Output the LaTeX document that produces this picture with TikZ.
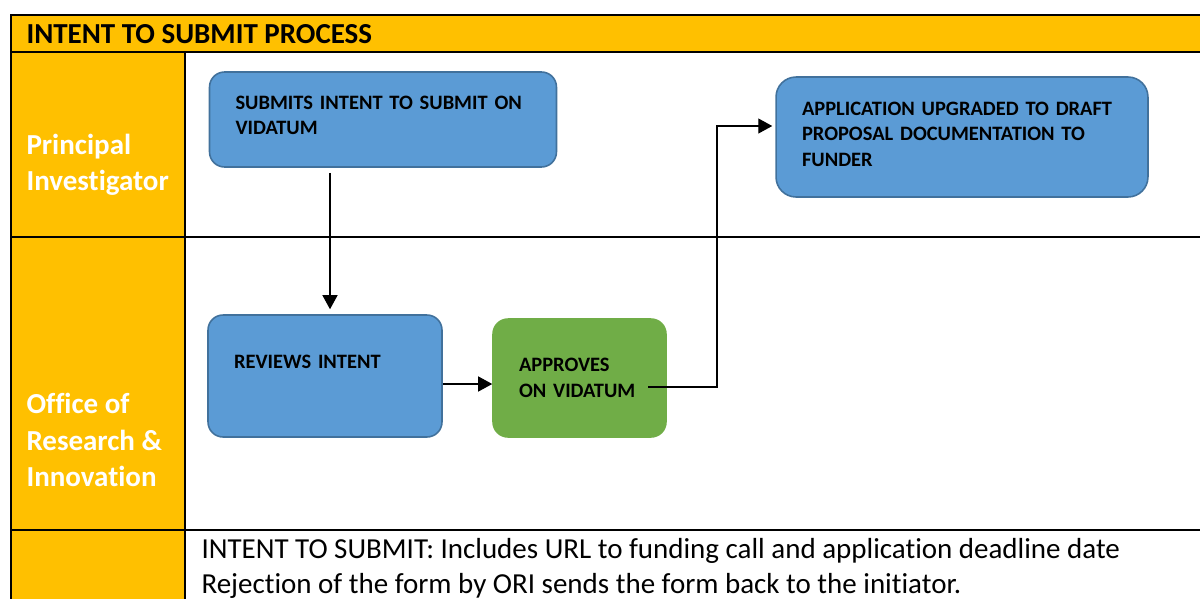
\documentclass[tikz,border=0pt]{standalone}
\usepackage{fontspec}
\setmainfont[Ligatures=NoCommon, Contextuals=NoAlternate]{Carlito}
\usepackage{tikz}
\usetikzlibrary{arrows.meta}

\definecolor{laneyellow}{HTML}{FFC000}
\definecolor{boxblue}{HTML}{5B9BD5}
\definecolor{boxblueline}{HTML}{41719C}
\definecolor{boxgreen}{HTML}{70AD47}

\begin{document}
\begin{tikzpicture}[x=0.02cm,y=-0.02cm,semithick]
        \tikzstyle{tableline}=[draw=black, line width=1.1pt]
        \tikzstyle{lanelabel}=[
            anchor=west,
            inner sep=0pt,
            align=left,
            text=white,
            font=\fontsize{16.5pt}{20.8pt}\selectfont\bfseries
        ]
        \tikzstyle{stepbox}=[
            rectangle,
            rounded corners=0.3cm,
            draw=boxblueline,
            line width=0.9pt,
            fill=boxblue,
            text=black,
            align=left,
            inner xsep=0.52cm,
            font=\fontsize{11.65pt}{14.7pt}\selectfont\bfseries
        ]
        \tikzstyle{flow}=[-{Triangle[length=0.28cm,width=0.3cm]}, line width=0.7pt]

        \useasboundingbox (0,0) rectangle (1200,599);

        % table
        \fill[laneyellow] (11,15) rectangle (1200,52);
        \fill[laneyellow] (11,52) rectangle (185,599);
        \draw[tableline] (1200,15) -- (11,15) -- (11,599);
        \draw[tableline] (11,52) -- (1200,52);
        \draw[tableline] (185,52) -- (185,599);
        \draw[tableline] (11,237) -- (1200,237);
        \draw[tableline] (11,530) -- (1200,530);

        \node[anchor=base west, inner sep=0pt, font=\fontsize{16.5pt}{20pt}\selectfont\bfseries] (title) at (26,43) {INTENT TO SUBMIT PROCESS};
        \node[lanelabel] (pi) at (26,165) {Principal\\Investigator};
        \node[lanelabel] (ori) at (26,440) {Office of\\Research \&\\Innovation};

        % steps
        \node[stepbox, minimum width=6.92cm, minimum height=1.9cm, text width=5.9cm, text height=0.27cm, text depth=0.69cm] (submit) at (383,119.5) {SUBMITS INTENT TO SUBMIT ON\\VIDATUM};
        \node[stepbox, minimum width=4.68cm, minimum height=2.44cm, text width=3.64cm, text depth=0.55cm] (reviews) at (325,376) {REVIEWS INTENT};
        \node[stepbox, draw=boxgreen, fill=boxgreen, minimum width=3.46cm, minimum height=2.36cm, text width=2.42cm] (approves) at (579.5,378) {APPROVES\\ON VIDATUM};
        \node[stepbox, rounded corners=0.4cm, minimum width=7.36cm, minimum height=2.4cm, text width=6.4cm, text height=0.27cm, text depth=1.15cm] (application) at (962,137) {APPLICATION UPGRADED TO DRAFT\\PROPOSAL DOCUMENTATION TO\\FUNDER};

        \node[anchor=base west, inner sep=0pt, align=left, font=\fontsize{16.5pt}{20pt}\selectfont] (note) at (201,558) {INTENT TO SUBMIT: Includes URL to funding call and application deadline date};
        \node[anchor=base west, inner sep=0pt, align=left, font=\fontsize{16.5pt}{20pt}\selectfont] (note2) at (201,593) {Rejection of the form by ORI sends the form back to the initiator.};

        % connectors
        \coordinate (apstart) at (648,387);
        \coordinate (turn) at (717,387);
        \draw[flow, shorten <=0.1cm, shorten >=0.1cm] ([xshift=0.1cm]reviews.north |- submit.south) -- ([xshift=0.1cm]reviews.north);
        \draw[flow] ([yshift=-0.16cm]reviews.east) -- ([yshift=-0.16cm]reviews.east -| approves.west);
        \draw[flow, shorten >=0.06cm] (apstart) -- (turn) |- ([yshift=0.22cm]application.west);

    \end{tikzpicture}
\end{document}
